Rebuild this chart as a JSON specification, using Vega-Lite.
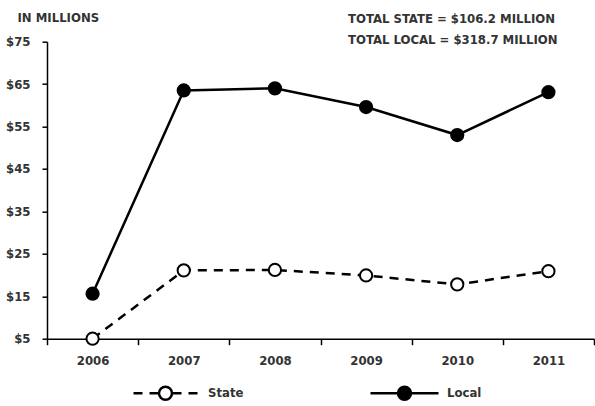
{
  "$schema": "https://vega.github.io/schema/vega-lite/v6.json",
  "width": 547,
  "height": 297,
  "autosize": "none",
  "padding": {"left": 47, "top": 41.7, "right": 1, "bottom": 67.3},
  "background": "white",
  "config": {
    "font": "DejaVu Sans Condensed, Roboto, sans-serif",
    "view": {"stroke": null},
    "axis": {
      "labelFont": "DejaVu Sans Condensed, Roboto, sans-serif",
      "labelFontWeight": "bold",
      "labelFontSize": 13,
      "labelColor": "#333333",
      "domainColor": "#000000",
      "domainWidth": 1.5,
      "tickColor": "#000000",
      "tickWidth": 1.5,
      "grid": false
    },
    "legend": {
      "title": null,
      "orient": "none",
      "direction": "horizontal",
      "legendX": 107,
      "legendY": 340,
      "padding": 0,
      "columnPadding": 121,
      "symbolSize": 400,
      "symbolOpacity": 1,
      "symbolStrokeColor": "#000000",
      "symbolStrokeWidth": 2.5,
      "labelOffset": 31,
      "labelFont": "DejaVu Sans Condensed, Roboto, sans-serif",
      "labelFontWeight": "bold",
      "labelFontSize": 13,
      "labelColor": "#333333"
    }
  },
  "title": {
    "text": ["TOTAL STATE = $106.2 MILLION", "TOTAL LOCAL = $318.7 MILLION"],
    "anchor": "start",
    "frame": "group",
    "align": "left",
    "dx": 301,
    "dy": 35,
    "fontSize": 13,
    "fontWeight": "bold",
    "lineHeight": 21,
    "color": "#333333",
    "font": "DejaVu Sans Condensed, Roboto, sans-serif",
    "offset": 0
  },
  "data": {
    "values": [
      {"year": "2006", "series": "State", "value": 5.0},
      {"year": "2007", "series": "State", "value": 21.1},
      {"year": "2008", "series": "State", "value": 21.2},
      {"year": "2009", "series": "State", "value": 19.9},
      {"year": "2010", "series": "State", "value": 17.8},
      {"year": "2011", "series": "State", "value": 20.9},
      {"year": "2006", "series": "Local", "value": 15.6},
      {"year": "2007", "series": "Local", "value": 63.5},
      {"year": "2008", "series": "Local", "value": 64.0},
      {"year": "2009", "series": "Local", "value": 59.6},
      {"year": "2010", "series": "Local", "value": 53.0},
      {"year": "2011", "series": "Local", "value": 63.1}
    ]
  },
  "encoding": {
    "x": {
      "field": "year",
      "type": "ordinal",
      "bandPosition": 0.5,
      "scale": {"type": "band", "paddingInner": 0, "paddingOuter": 0},
      "axis": {
        "title": null,
        "labelAngle": 0,
        "tickBand": "extent",
        "tickSize": 6,
        "labelPadding": 10,
        "encode": {"ticks": {"y": {"value": -6}}}
      }
    },
    "y": {
      "field": "value",
      "type": "quantitative",
      "scale": {"domain": [5, 75], "nice": false, "zero": false},
      "axis": {
        "title": "IN MILLIONS",
        "titleAngle": 0,
        "titleAlign": "left",
        "titleBaseline": "alphabetic",
        "titleX": -30,
        "titleY": -20,
        "titleFont": "DejaVu Sans Condensed, Roboto, sans-serif",
        "titleFontSize": 13,
        "titleFontWeight": "bold",
        "titleColor": "#333333",
        "values": [5, 15, 25, 35, 45, 55, 65, 75],
        "labelExpr": "'$' + datum.value",
        "tickSize": 5,
        "labelPadding": 12
      }
    }
  },
  "layer": [
    {
      "transform": [{"filter": "datum.series === 'State'"}],
      "mark": {"type": "line", "color": "#000000", "strokeWidth": 2.5, "strokeDash": [9, 7]},
      "encoding": {}
    },
    {
      "transform": [{"filter": "datum.series === 'Local'"}],
      "mark": {"type": "line", "color": "#000000", "strokeWidth": 2.5},
      "encoding": {}
    },
    {
      "mark": {"type": "point", "shape": "circle", "filled": true, "size": 150, "strokeWidth": 2, "opacity": 1},
      "encoding": {
        "fill": {
          "field": "series",
          "scale": {"domain": ["State", "Local"], "range": ["#ffffff", "#000000"]},
          "legend": {"title": null}
        },
        "stroke": {
          "field": "series",
          "scale": {"domain": ["State", "Local"], "range": ["#000000", "#000000"]},
          "legend": {"title": null}
        }
      }
    },
    {
      "mark": {"type": "point", "filled": true, "size": 400, "opacity": 0},
      "encoding": {
        "shape": {
          "field": "series",
          "scale": {
            "domain": ["State", "Local"],
            "range": [
              "M-3.2,0H-2.3M-1.6,0H-0.65M0.65,0H1.6M2.3,0H3.2M-0.65,0A0.65,0.65 0 1,0 0.65,0A0.65,0.65 0 1,0 -0.65,0Z",
              "M-3.4,0H-0.65M0.65,0H3.4M-0.65,0A0.65,0.65 0 1,0 0.65,0A0.65,0.65 0 1,0 -0.65,0Z"
            ]
          },
          "legend": {"title": null}
        }
      }
    }
  ]
}
